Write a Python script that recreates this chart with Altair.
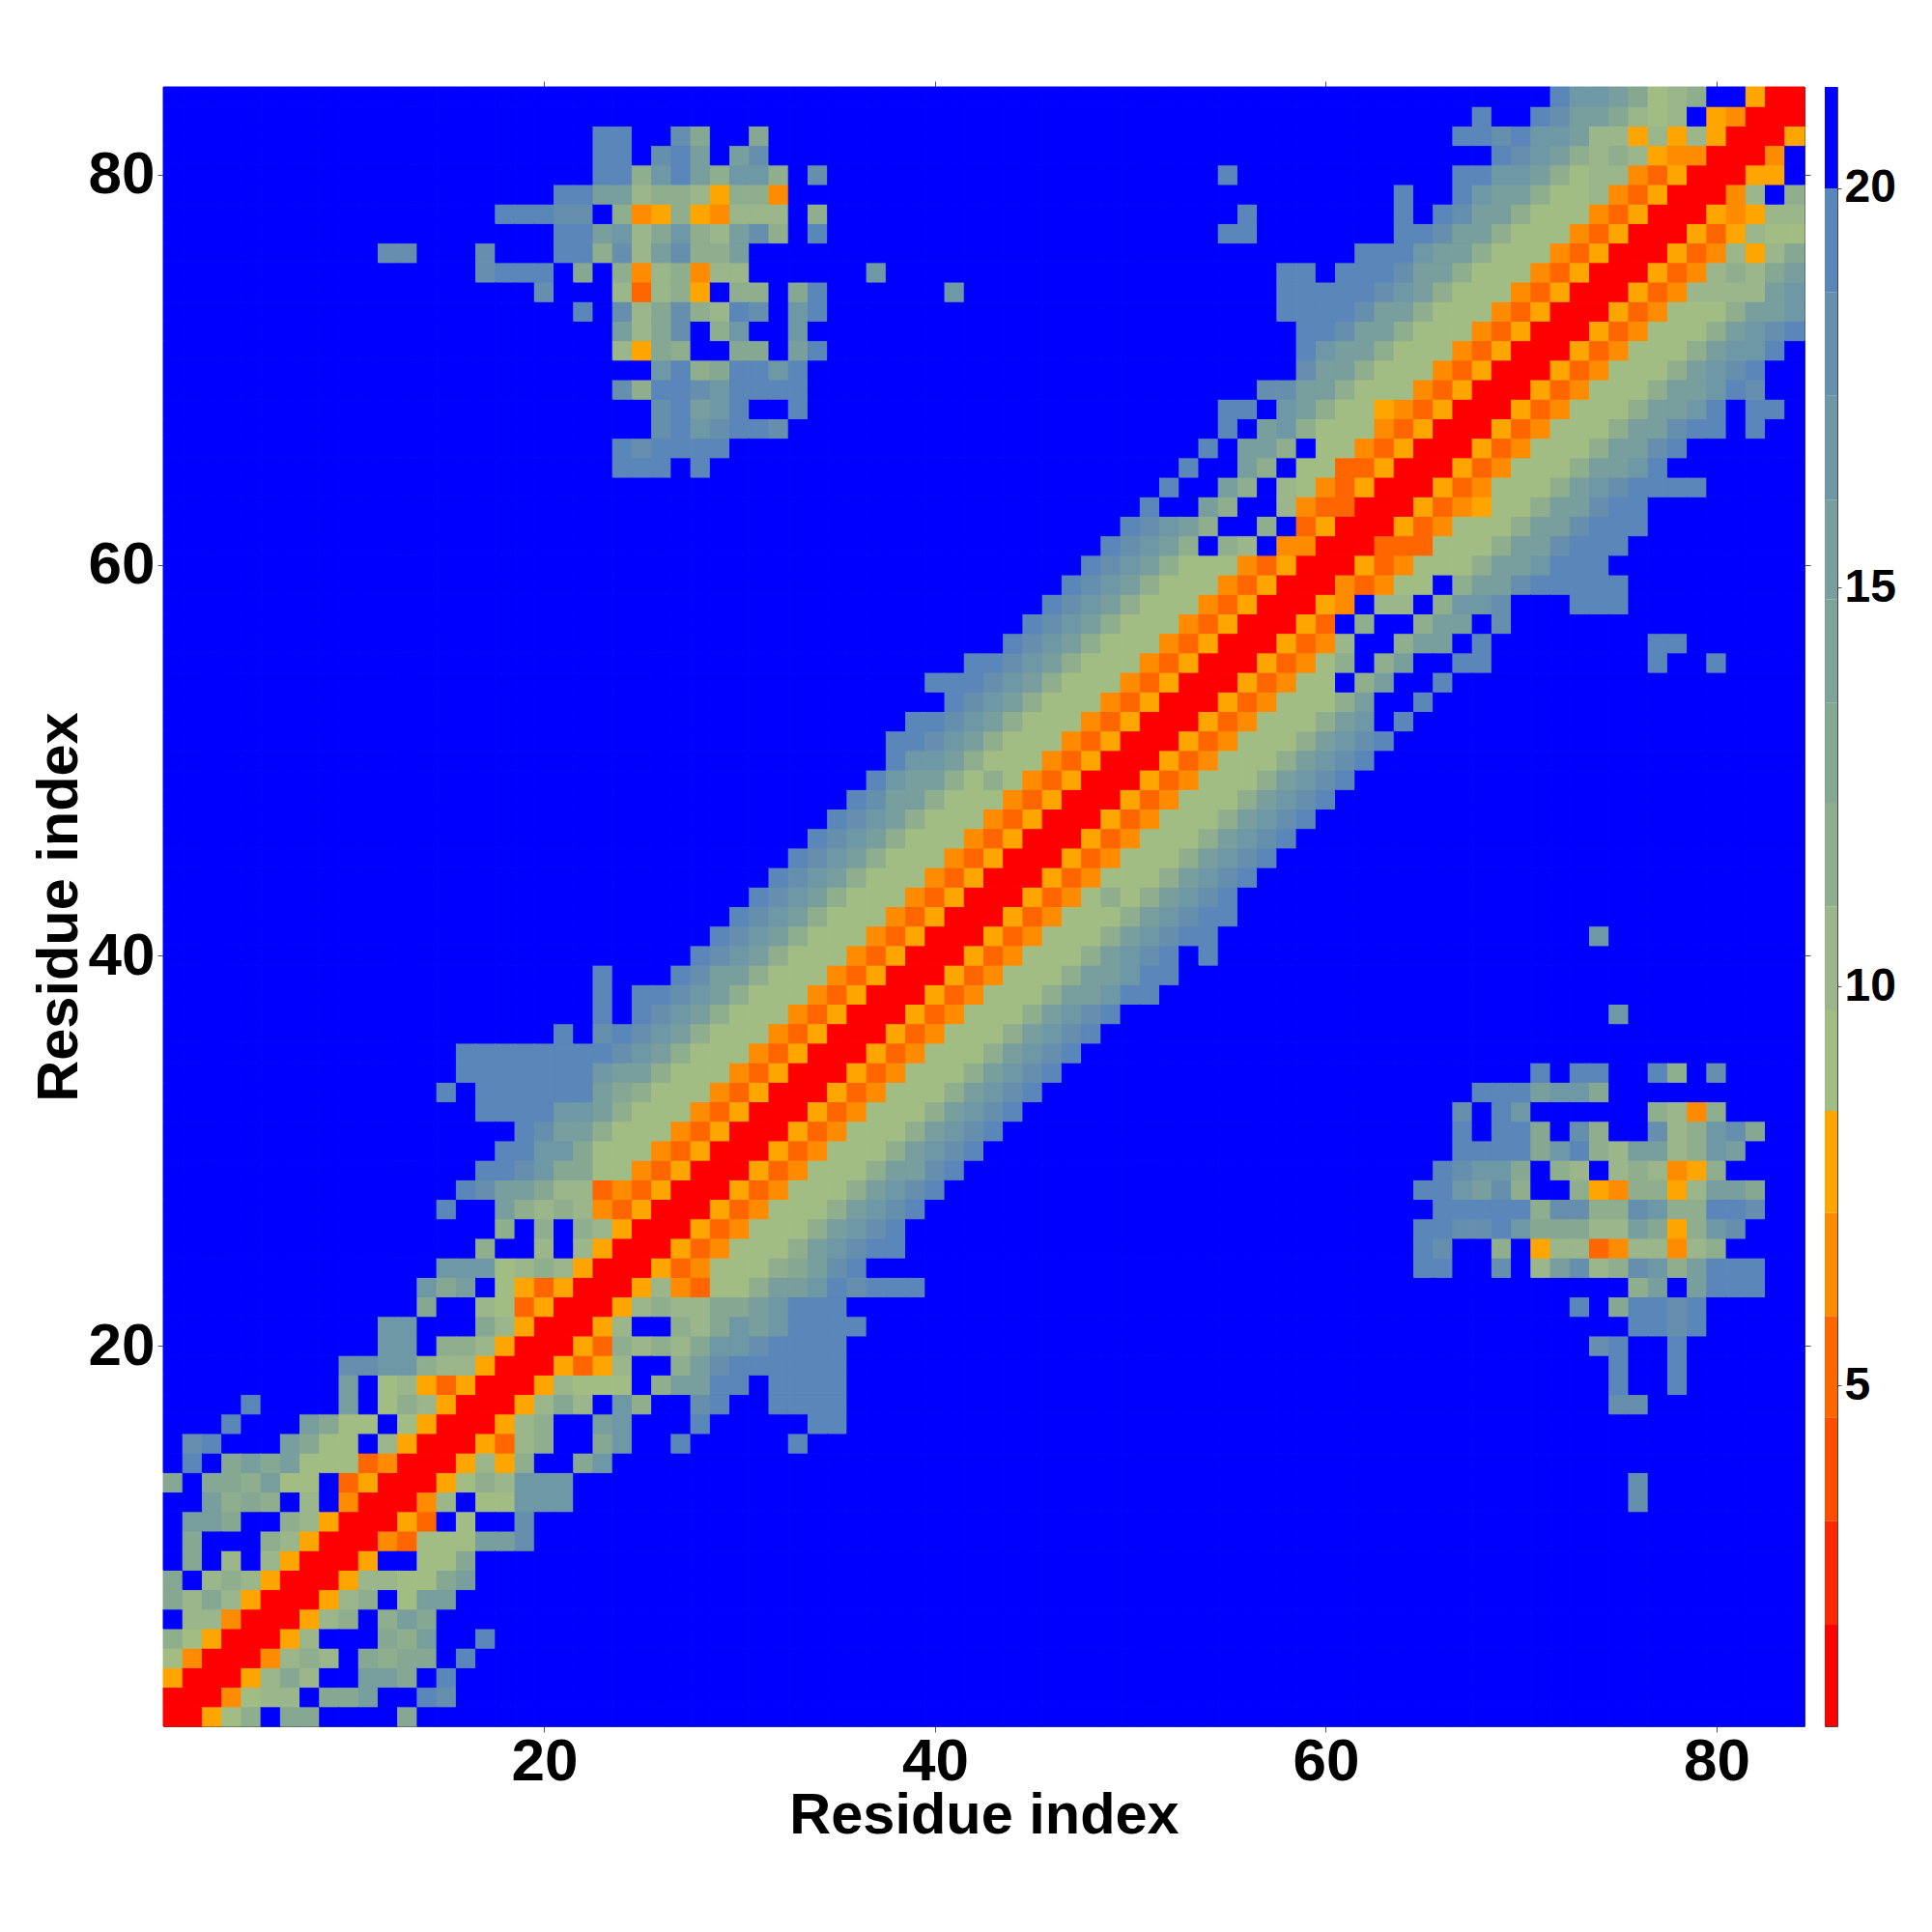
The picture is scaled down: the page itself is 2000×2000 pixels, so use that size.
import altair as alt
import pandas as pd

N = 84
# colour band edges (one band per colour)
EDGES = [0.73, 2.0, 3.3, 4.6, 5.87, 7.16, 8.44, 9.7, 11.0, 12.3, 13.55, 14.85, 16.1, 17.4, 18.7, 20.0, 21.27]
COLORS = ["#ff0000", "#ff2800", "#ff4d00", "#ff6600", "#ff8c00", "#ffa500",
          "#a2bd84", "#9ab68a", "#8fae8e", "#86a893", "#7fa398", "#789e9e",
          "#6f98a6", "#668fae", "#5a86ba", "#0000ff"]
# symbol in the rows below -> colour band
BAND = {"0": 0, "3": 3, "4": 4, "5": 5, "6": 6, "7": 7, "8": 8, "9": 9,
        "a": 11, "b": 12, "c": 13, "d": 14, "F": 15}

# Upper triangle of the symmetric map: ROWS[i] starts on the diagonal of residue i+1
ROWS = [
    "00568F99FFFF9", "004677F99aFFdc", "005797FFaa9Fd", "004787F9899Fd",
    "0057FFF98aFFd", "00578F8a9", "00578F6aa", "00577669a", "005FF669",
    "0043666aac", "0053F6FFc", "0047F66bbb", "005687bbb", "005758FF9b",
    "005378FF9bFFdFFFFFd", "00578FFabFFFdFFFFFdd", "005797Fb8FFcdFFdddd",
    "0057666F8aaddFdddd", "005357FF8acdddddd", "005387879bbcdddd",
    "0057FF879babdddd", "005787799abddd", "005743668aabdcddd",
    "0053466689acd", "005346668abcdd", "005346668abcd", "005346668abcd",
    "005346668abcd", "005346668aacd", "005346668abcd", "005346668abcd",
    "005346668abcd", "005346668abcd", "005346668abcd", "005346668abcd",
    "005346668abcd", "005346668abcd", "005346668aabdd", "005346668aabdd",
    "005346668abcdFd", "005346668abcdd", "005346668abcdd", "005346868abcd",
    "005346668abcd", "005346668abcd", "005346668abcd", "005346668abcd",
    "005346668abcd", "005346668abcd", "005346668abcd", "005346668abcd",
    "005346668abFd", "005346668aFFd", "0053466F8aFFd", "0053468F8aFFdd",
    "005347FF8aaFd", "0053F8FF8aaFc", "0054F77F8bbcFFFddd", "0043466F8aacddddd",
    "005346668aabddd", "003336668aacddd", "005346668aacddd", "005345668aacdd",
    "005346668abcdddd", "005346668aabd", "005346668aacd", "005346668aacddFd",
    "005346668aabdFdd", "005346668aabdc", "005346668abcd", "005346668abbd",
    "005346668abcd", "005346668aab", "005347777ab", "005347879a", "005347579",
    "00535766", "0054577", "0047F8", "0055F", "004F", "005", "00", "0",
]
# Patches away from the band: residue -> (first partner residue, symbols)
FAR = {
    12: (76, "c"), 13: (76, "c"), 17: (75, "cc"), 18: (75, "dFFd"), 19: (75, "dFFd"),
    20: (74, "cdFFd"), 21: (76, "ddcd"), 22: (73, "dF9ddcd"), 23: (76, "8aFaddd"),
    24: (65, "ddFFcF7ac78cb8addd"), 25: (65, "dcFF8F5773477478"),
    26: (65, "ddccdb99977a958bc"), 27: (66, "ddddd8cc88cb88ddc"),
    28: (65, "ddbac8FF8548857aa9"), 29: (66, "dcbb9F87F787458"),
    30: (67, "dddd9bd87aa78ba"), 31: (67, "dFdd9Fc8FFc78bc9"),
    32: (67, "cFdbFFFFFF8748"), 33: (68, "dddabb9"), 34: (71, "dFddFFd8Fc"),
    37: (75, "b"), 41: (74, "b"), 55: (77, "dFFd"), 56: (77, "dd"),
}
TICKS = [20, 40, 60, 80]
BAR_TICKS = [5, 10, 15, 20]
TITLE = "Residue index"
FONT = "Liberation Sans"

mid = [(EDGES[k] + EDGES[k + 1]) / 2 for k in range(len(COLORS))]
grid = {}
for i, row in enumerate(ROWS, start=1):
    for off, ch in enumerate(row):
        grid[(i, i + off)] = ch
for i, (start, row) in FAR.items():
    for off, ch in enumerate(row):
        grid[(i, start + off)] = ch

records = []
for i in range(1, N + 1):
    for j in range(1, N + 1):
        ch = grid.get((min(i, j), max(i, j)), "F")
        records.append({"a": i - 0.5, "a2": i + 0.5, "b": j - 0.5, "b2": j + 0.5, "v": mid[BAND[ch]]})
cells = pd.DataFrame(records)

thr = alt.Scale(type="threshold", domain=EDGES[1:-1], range=COLORS)
xs = alt.Scale(domain=[0.5, N + 0.5], nice=False, zero=False)
ys = alt.Scale(domain=[0.5, N + 0.5], nice=False, zero=False)
tick = dict(tickColor="#555555", tickSize=6, tickWidth=1, domain=False, grid=False)

heat = alt.Chart(cells).mark_rect(strokeWidth=1).encode(
    x=alt.X("a:Q", scale=xs, axis=alt.Axis(values=TICKS, title=TITLE, orient="bottom", labelFontSize=62,
            labelFontWeight="bold", labelFont=FONT, titleFont=FONT, titleFontSize=59.5, titleFontWeight="bold",
            labelColor="black", titleColor="black", labelPadding=0, titlePadding=-4, **tick)),
    x2="a2:Q",
    y=alt.Y("b:Q", scale=ys, axis=alt.Axis(values=TICKS, title=TITLE, orient="left", labelFontSize=62,
            labelFontWeight="bold", labelFont=FONT, titleFont=FONT, titleFontSize=59.5, titleFontWeight="bold",
            labelColor="black", titleColor="black", labelPadding=3, titlePadding=0, **tick)),
    y2="b2:Q",
    fill=alt.Color("v:Q", scale=thr, legend=None),
    stroke=alt.Color("v:Q", scale=thr, legend=None),
)
frame_df = pd.DataFrame({"a": TICKS, "b": TICKS})
frame = alt.Chart(frame_df).mark_point(opacity=0).encode(
    x=alt.X("a:Q", scale=xs, axis=alt.Axis(values=TICKS, title=None, orient="top", labels=False, **tick)),
    y=alt.Y("b:Q", scale=ys, axis=alt.Axis(values=TICKS, title=None, orient="right", labels=False, **tick)),
)
main = alt.layer(heat, frame).resolve_axis(x="independent", y="independent").properties(width=1699, height=1697)

bar_df = pd.DataFrame({"lo": EDGES[:-1], "hi": EDGES[1:], "c": COLORS})
bar = alt.Chart(bar_df).mark_rect().encode(
    y=alt.Y("lo:Q", scale=alt.Scale(domain=[EDGES[0], EDGES[-1]], nice=False, zero=False),
            axis=alt.Axis(values=BAR_TICKS, title=None, orient="right", labelFontSize=48, labelFontWeight="bold",
                          labelFont=FONT, labelColor="black", tickColor="#555555", tickSize=4, domain=False,
                          grid=False, labelPadding=3)),
    y2="hi:Q",
    fill=alt.Fill("c:N", scale=None),
).properties(width=13, height=1697)

chart = alt.hconcat(main, bar, spacing=13).configure_view(stroke="#444444", strokeWidth=1).properties(
    padding={"left": 22, "top": 75, "right": 5, "bottom": 5}, background="white")
chart.save("out.html", embed_options={"renderer": "svg", "actions": False})
